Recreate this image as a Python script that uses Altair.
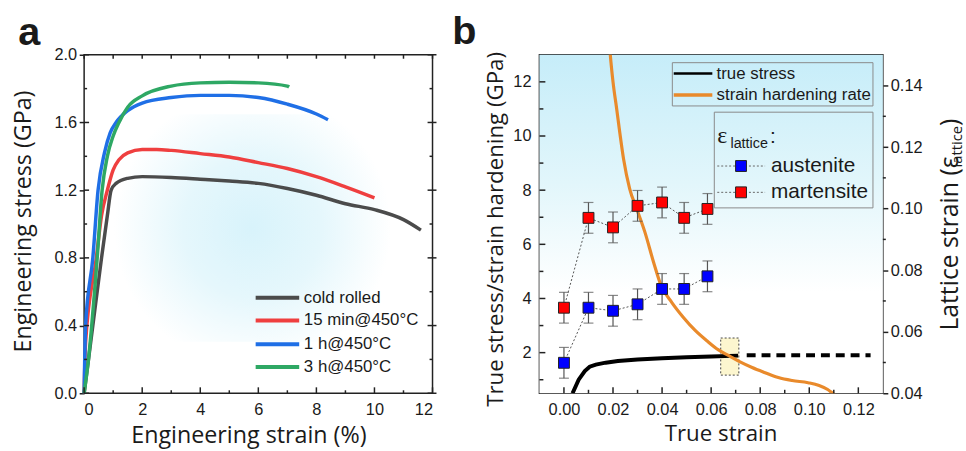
import altair as alt
import pandas as pd

# ---------------- panel a data ----------------
series_names = ["cold rolled", "15 min@450°C", "1 h@450°C", "3 h@450°C"]
series_colors = ["#4b4b4b", "#ef3f3f", "#1f6fe6", "#2ea864"]

cold_x = [0, 0.3, 0.6, 0.8, 0.93, 1.1, 1.5, 2, 3, 4, 5, 6, 7, 8, 9, 10, 11, 11.6]
cold_y = [0, 0.4, 0.8, 1.05, 1.2, 1.24, 1.27, 1.28, 1.275, 1.265, 1.254, 1.24, 1.21, 1.17, 1.12, 1.085, 1.026, 0.964]
min15_x = [0, 0.05, 0.42, 0.6, 0.8, 1.0, 1.2, 1.5, 2, 2.5, 3, 4, 5, 6, 7, 8, 9, 10]
min15_y = [0, 0.3, 0.8, 1.05, 1.2, 1.32, 1.38, 1.42, 1.44, 1.44, 1.435, 1.416, 1.396, 1.363, 1.328, 1.28, 1.22, 1.155]
h1_x = [0, 0.05, 0.3, 0.48, 0.7, 0.9, 1.1, 1.5, 2, 3, 4, 5, 6, 7, 8, 8.4]
h1_y = [0, 0.4, 0.8, 1.2, 1.42, 1.54, 1.6, 1.67, 1.715, 1.747, 1.76, 1.76, 1.747, 1.708, 1.65, 1.616]
h3_x = [0, 0.15, 0.45, 0.62, 0.8, 1.0, 1.2, 1.5, 2, 3, 4, 5, 6, 7, 7.06]
h3_y = [0, 0.2, 0.8, 1.2, 1.4, 1.52, 1.6, 1.69, 1.757, 1.815, 1.834, 1.838, 1.834, 1.815, 1.81]

a_x_major = [0, 2, 4, 6, 8, 10, 12]
a_x_minor = [1, 3, 5, 7, 9, 11]
a_x_all = [0, 1, 2, 3, 4, 5, 6, 7, 8, 9, 10, 11, 12]
a_y_major = [0.0, 0.4, 0.8, 1.2, 1.6, 2.0]
a_y_minor = [0.2, 0.6, 1.0, 1.4, 1.8]

# ---------------- panel b data ----------------
true_strain = [0.0035, 0.006, 0.0085, 0.0105, 0.013, 0.017, 0.022, 0.03, 0.04, 0.05, 0.06, 0.071]
true_stress = [0.5, 1.0, 1.32, 1.48, 1.56, 1.63, 1.69, 1.75, 1.79, 1.83, 1.86, 1.89]
extrap_strain = [0.0745, 0.125]
extrap_stress = [1.9, 1.9]
hard_strain = [0.0184, 0.0189, 0.0200, 0.0215, 0.0228, 0.0243, 0.0268, 0.0297, 0.0330, 0.0365,
               0.0395, 0.0440, 0.0487, 0.0535, 0.0585, 0.0630, 0.0672, 0.0720, 0.0767, 0.0820,
               0.0874, 0.0930, 0.0995, 0.1040, 0.1075, 0.1095, 0.1110]
hard_rate = [13.6, 13.0, 12.0, 11.0, 10.1, 9.15, 8.05, 7.3, 6.45, 5.35,
             4.5, 3.85, 3.3, 2.82, 2.42, 2.1, 1.89, 1.65, 1.45, 1.26,
             1.08, 0.97, 0.89, 0.79, 0.64, 0.5, 0.4]
lat_strain = [0.0, 0.01, 0.02, 0.03, 0.04, 0.049, 0.0585]
austenite = [0.0499, 0.0678, 0.0668, 0.0689, 0.0739, 0.0739, 0.0780]
martensite = [0.0678, 0.0970, 0.0939, 0.1009, 0.1020, 0.0970, 0.0999]
lat_err = [0.005, 0.005, 0.005, 0.005, 0.005, 0.005, 0.005]
phase_names = ["austenite", "martensite"]
phase_colors = ["#0000ff", "#ff0000"]
box_strain = [0.0639, 0.0713]
box_stress = [1.17, 2.54]
line_names = ["true stress", "strain hardening rate"]
line_colors = ["#000000", "#e98a2b"]

b_x_major = [0.0, 0.02, 0.04, 0.06, 0.08, 0.10, 0.12]
b_x_minor = [0.01, 0.03, 0.05, 0.07, 0.09, 0.11]
b_yl_major = [2, 4, 6, 8, 10, 12]
b_yl_minor = [1, 3, 5, 7, 9, 11]
b_yr_major = [0.04, 0.06, 0.08, 0.10, 0.12, 0.14]
b_yr_minor = [0.05, 0.07, 0.09, 0.11, 0.13]

# ---------------- style ----------------
FONT_T = "Open Sans"
FONT_L = "Liberation Sans"
FRAME = "#222222"
TXT = "#1a1a1a"
WA, WB, H = 352, 347, 342
ONE = pd.DataFrame({"k": [0]})


def text_mark(s, x, y, size, font=FONT_L, baseline="middle", weight="normal", angle=0, align="left"):
    mk = dict(align=align, baseline=baseline, font=font, fontSize=size, fontWeight=weight, color=TXT)
    if angle:
        mk["angle"] = angle
    return alt.Chart(pd.DataFrame({"label": [s]})).mark_text(**mk).encode(
        x=alt.value(x), y=alt.value(y), text="label:N")


def seg(x1, x2, y1, y2, color, width, dash=None):
    mk = dict(color=color, strokeWidth=width)
    if dash:
        mk["strokeDash"] = dash
    return alt.Chart(ONE).mark_rule(**mk).encode(
        x=alt.value(x1), x2=alt.value(x2), y=alt.value(y1), y2=alt.value(y2))


def xticks(vals, scale, axis, y1, y2):
    return alt.Chart(pd.DataFrame({"v": vals})).mark_rule(color=FRAME, strokeWidth=1.5).encode(
        x=alt.X("v:Q", scale=scale, axis=axis), y=alt.value(y1), y2=alt.value(y2))


def yticks(vals, scale, axis, x1, x2):
    return alt.Chart(pd.DataFrame({"v": vals})).mark_rule(color=FRAME, strokeWidth=1.5).encode(
        y=alt.Y("v:Q", scale=scale, axis=axis), x=alt.value(x1), x2=alt.value(x2))


# ================= panel a =================
xa = alt.Scale(domain=[0, 12], nice=False, zero=False)
ya = alt.Scale(domain=[0, 2], nice=False, zero=False)
xa_axis = alt.Axis(values=a_x_major, format="d", ticks=False, labelPadding=8,
                   title="Engineering strain (%)", titleX=166, titleY=31, titleBaseline="top",
                   titleFontSize=23.5)
ya_axis = alt.Axis(values=a_y_major, format=".1f", tickSize=5, labelPadding=2.5,
                   title="Engineering stress (GPa)", titleX=-49, titleY=168, titleAngle=270,
                   titleBaseline="bottom", titleAlign="center", titleFontSize=23.5)

rows = []
for name, xs, ys in zip(series_names, [cold_x, min15_x, h1_x, h3_x], [cold_y, min15_y, h1_y, h3_y]):
    for i, (x, y) in enumerate(zip(xs, ys)):
        rows.append({"series": name, "strain": x, "stress": y, "order": i})
curves = pd.DataFrame(rows)

bg_a = alt.Chart(ONE).mark_rect(
    fill=alt.RadialGradient(
        gradient="radial",
        stops=[alt.GradientStop(color="#d8f3fb", offset=0),
               alt.GradientStop(color="#e5f7fc", offset=0.5),
               alt.GradientStop(color="#ffffff", offset=1)],
        x1=0.5, y1=0.5, r1=0, x2=0.5, y2=0.5, r2=0.5)
).encode(x=alt.value(30), x2=alt.value(310), y=alt.value(60), y2=alt.value(290))

lines_a = alt.Chart(curves).mark_line(strokeWidth=3.5, interpolate="monotone").encode(
    x=alt.X("strain:Q", scale=xa, axis=xa_axis),
    y=alt.Y("stress:Q", scale=ya, axis=ya_axis),
    color=alt.Color("series:N", scale=alt.Scale(domain=series_names, range=series_colors), legend=None),
    order="order:Q",
)

ticks_a = [
    xticks(a_x_major, xa, xa_axis, H, H - 6), xticks(a_x_minor, xa, xa_axis, H, H - 3),
    xticks(a_x_all, xa, xa_axis, 0, 4),
    yticks(a_y_major, ya, ya_axis, 0, 5), yticks(a_y_minor, ya, ya_axis, 0, 3),
    yticks(a_y_major, ya, ya_axis, WA - 5, WA + 4), yticks(a_y_minor, ya, ya_axis, WA - 3, WA),
]

legend_a = []
leg_rows_a = [245.5, 268.5, 292.5, 315.5]
for name, col, yy in zip(series_names, series_colors, leg_rows_a):
    legend_a.append(seg(173.3, 217.3, yy, yy, col, 4))
    legend_a.append(text_mark(name, 222, yy, 17))

label_a = text_mark("a", -66.5, -10.2, 40, weight="bold", baseline="alphabetic")

panel_a = alt.layer(bg_a, lines_a, *ticks_a, *legend_a, label_a).properties(width=WA, height=H)

# ================= panel b =================
xb = alt.Scale(domain=[-0.01, 0.13], nice=False, zero=False)
yl = alt.Scale(domain=[0.5, 13], nice=False, zero=False)
yr = alt.Scale(domain=[0.04, 0.15], nice=False, zero=False)
xb_axis = alt.Axis(values=b_x_major, format=".2f", ticks=False, labelPadding=8,
                   title="True strain", titleX=183, titleY=30, titleBaseline="top")
yl_axis = alt.Axis(values=b_yl_major, format="d", ticks=False, labelPadding=8.5, orient="left",
                   title="True stress/strain hardening (GPa)", titleX=-32, titleY=176, titleAngle=270,
                   titleBaseline="bottom", titleAlign="center")
yr_axis = alt.Axis(values=b_yr_major, format=".2f", orient="right", tickSize=5, labelPadding=2.5, title=None)

bg_b = alt.Chart(ONE).mark_rect(
    fill=alt.LinearGradient(
        gradient="linear",
        stops=[alt.GradientStop(color="#c6edf9", offset=0),
               alt.GradientStop(color="#e2f6fb", offset=0.38),
               alt.GradientStop(color="#ffffff", offset=0.7),
               alt.GradientStop(color="#ffffff", offset=1)],
        x1=0, x2=0, y1=0, y2=1)
).encode(x=alt.value(0), x2=alt.value(WB), y=alt.value(0), y2=alt.value(H))

box_df = pd.DataFrame({"x1": [box_strain[0]], "x2": [box_strain[1]], "y1": [box_stress[0]], "y2": [box_stress[1]]})
box = alt.Chart(box_df).mark_rect(fill="#fcf6cf", stroke="#444444", strokeWidth=1, strokeDash=[2, 2]).encode(
    x=alt.X("x1:Q", scale=xb, axis=xb_axis), x2="x2:Q",
    y=alt.Y("y1:Q", scale=yl, axis=yl_axis), y2="y2:Q")

ts_df = pd.DataFrame({"strain": true_strain, "stress": true_stress})
black = alt.Chart(ts_df).mark_line(color="#000000", strokeWidth=4, clip=True).encode(
    x=alt.X("strain:Q", scale=xb, axis=xb_axis), y=alt.Y("stress:Q", scale=yl, axis=yl_axis))
ex_df = pd.DataFrame({"strain": extrap_strain, "stress": extrap_stress})
dashed = alt.Chart(ex_df).mark_line(color="#000000", strokeWidth=4, strokeDash=[9, 6]).encode(
    x=alt.X("strain:Q", scale=xb, axis=xb_axis), y=alt.Y("stress:Q", scale=yl, axis=yl_axis))
hr_df = pd.DataFrame({"strain": hard_strain, "rate": hard_rate})
orange = alt.Chart(hr_df).mark_line(color=line_colors[1], strokeWidth=3.2, clip=True, interpolate="monotone").encode(
    x=alt.X("strain:Q", scale=xb, axis=xb_axis), y=alt.Y("rate:Q", scale=yl, axis=yl_axis))

ticks_bl = [
    xticks(b_x_major, xb, xb_axis, H, H - 6), xticks(b_x_minor, xb, xb_axis, H, H - 3.5),
    yticks(b_yl_major, yl, yl_axis, 0, 6), yticks(b_yl_minor, yl, yl_axis, 0, 4),
]
left_group = alt.layer(bg_b, box, black, dashed, orange, *ticks_bl)

lrows = []
for ph, vals in zip(phase_names, [austenite, martensite]):
    for x, v, e in zip(lat_strain, vals, lat_err):
        lrows.append({"phase": ph, "strain": x, "val": v, "lo": v - e, "hi": v + e})
lat_df = pd.DataFrame(lrows)

conn = alt.Chart(lat_df).mark_line(color="#555555", strokeWidth=1, strokeDash=[2, 2]).encode(
    x=alt.X("strain:Q", scale=xb, axis=xb_axis), y=alt.Y("val:Q", scale=yr, axis=yr_axis), detail="phase:N")
err = alt.Chart(lat_df).mark_rule(color="#555555", strokeWidth=1.2).encode(
    x=alt.X("strain:Q", scale=xb, axis=xb_axis), y=alt.Y("lo:Q", scale=yr, axis=yr_axis), y2="hi:Q")
cap_lo = alt.Chart(lat_df).mark_tick(color="#555555", thickness=1.2, size=10, orient="horizontal").encode(
    x=alt.X("strain:Q", scale=xb, axis=xb_axis), y=alt.Y("lo:Q", scale=yr, axis=yr_axis))
cap_hi = alt.Chart(lat_df).mark_tick(color="#555555", thickness=1.2, size=10, orient="horizontal").encode(
    x=alt.X("strain:Q", scale=xb, axis=xb_axis), y=alt.Y("hi:Q", scale=yr, axis=yr_axis))
squares = alt.Chart(lat_df).mark_point(shape="square", filled=True, size=121, opacity=1,
                                       stroke="#222222", strokeWidth=1).encode(
    x=alt.X("strain:Q", scale=xb, axis=xb_axis),
    y=alt.Y("val:Q", scale=yr, axis=yr_axis),
    fill=alt.Fill("phase:N", scale=alt.Scale(domain=phase_names, range=phase_colors), legend=None),
)
ticks_br = [yticks(b_yr_minor, yr, yr_axis, WB, WB + 3)]
right_group = alt.layer(*ticks_br, conn, err, cap_lo, cap_hi, squares)

# legends and labels of panel b
ann_b = []
ann_b.append(alt.Chart(ONE).mark_rect(fillOpacity=0, stroke="#8a8a8a", strokeWidth=1).encode(
    x=alt.value(134.3), x2=alt.value(337), y=alt.value(8), y2=alt.value(51.7)))
for name, col, yy, sw in zip(line_names, line_colors, [19, 40.7], [2.5, 3.5]):
    ann_b.append(seg(135.7, 174.7, yy, yy, col, sw))
    ann_b.append(text_mark(name, 179, yy, 17))
ann_b.append(alt.Chart(ONE).mark_rect(fillOpacity=0, stroke="#8a8a8a", strokeWidth=1).encode(
    x=alt.value(176.7), x2=alt.value(337), y=alt.value(58), y2=alt.value(154.7)))
ann_b.append(text_mark("ε", 179.7, 89, 24, font="Liberation Serif", baseline="alphabetic"))
ann_b.append(text_mark("lattice", 193, 94, 14.5, baseline="alphabetic"))
ann_b.append(text_mark(":", 233, 89, 21, baseline="alphabetic"))
for ph, col, yy in zip(phase_names, phase_colors, [112.4, 139]):
    ann_b.append(seg(179.7, 228, yy, yy, "#666666", 1, dash=[2, 2]))
    ann_b.append(alt.Chart(ONE).mark_point(shape="square", filled=True, size=121, opacity=1,
                                           fill=col, stroke="#222222", strokeWidth=1).encode(
        x=alt.value(203.7), y=alt.value(yy)))
    ann_b.append(text_mark(ph, 234, yy, 21))
# right axis title with subscript (partly beyond the right edge, as in the original figure)
ann_b.append(text_mark("Lattice strain (ε", 422.5, 278.7, 25, font=FONT_T, baseline="alphabetic", angle=270))
ann_b.append(text_mark("lattice", 426.5, 114, 15, font=FONT_T, baseline="alphabetic", angle=270))
ann_b.append(text_mark(")", 422.5, 72, 25, font=FONT_T, baseline="alphabetic", angle=270))
ann_b.append(text_mark("b", -88, -11, 40, weight="bold", baseline="alphabetic"))

panel_b = alt.layer(left_group, right_group, *ann_b).resolve_scale(y="independent").properties(width=WB, height=H)

chart = alt.hconcat(panel_a, panel_b, spacing=108, bounds="flush").properties(
    padding={"left": 11, "top": 9, "right": 0, "bottom": 0},
    background="white",
).configure_view(stroke=FRAME, strokeWidth=1.5).configure_axis(
    labelFont=FONT_L, labelFontSize=16.5, labelColor=TXT,
    titleFont=FONT_T, titleFontSize=22.5, titleFontWeight="normal", titleColor=TXT,
    domain=False, grid=False, tickColor=FRAME, tickWidth=1.5,
)

chart.save("out.html", embed_options={"renderer": "svg", "actions": False})
